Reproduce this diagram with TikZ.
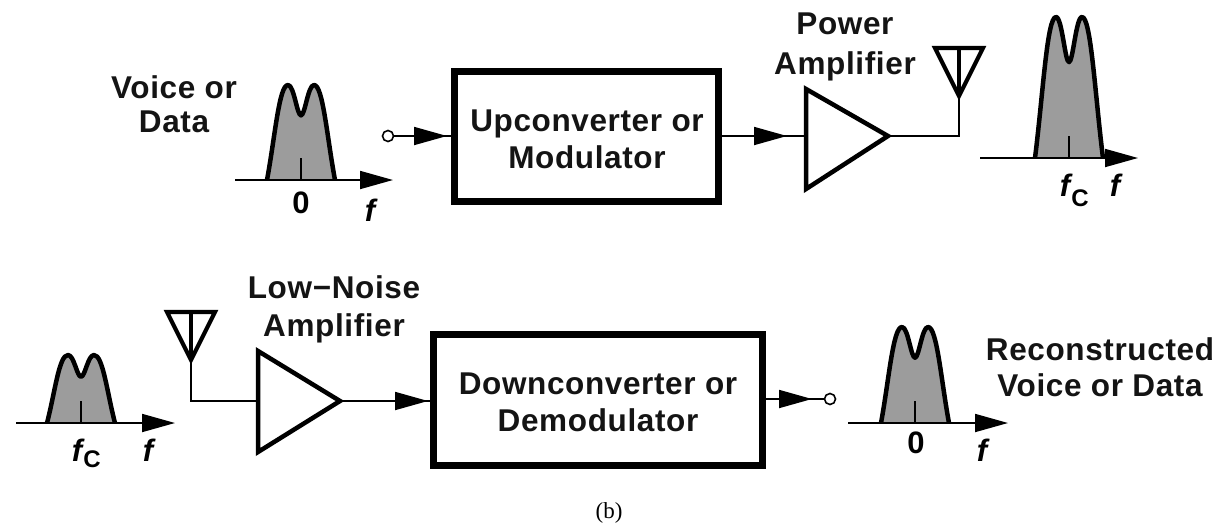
\documentclass[tikz,border=0pt]{standalone}
\usepackage{fontspec}
\setmainfont{Liberation Sans}
\newfontfamily\lblfont[LetterSpace=2]{Liberation Sans Bold}
\newfontfamily\itfont{Liberation Sans Bold Italic}
\newfontfamily\subfont{Liberation Sans Bold}
\newfontfamily\capfont{Liberation Serif}
\usetikzlibrary{arrows.meta}
\tikzset{
  lbl/.style={font=\fontsize{31.5}{#1}\selectfont\lblfont,align=center,inner sep=0pt,text=black!92},
  lbl/.default=37,
  blk/.style={draw,line width=7pt,inner sep=0pt,minimum width=#1},
  amp/.style={draw,line width=4.5pt,line join=miter,fill=white},
  wire/.style={line width=1.8pt},
  flow/.style={wire,-{Triangle[length=33pt,width=18pt]}},
  term/.style={circle,draw,line width=1.6pt,fill=white,minimum size=11pt,inner sep=0pt},
  ant/.style={draw,line width=4.2pt,line join=miter},
  freq/.style={font=\fontsize{31}{31}\selectfont\itfont,inner sep=0pt},
  zero/.style={font=\fontsize{31}{31}\selectfont\subfont,inner sep=0pt},
  subs/.style={font=\fontsize{24}{24}\selectfont\subfont,inner sep=0pt},
}
\newcommand\spec[3]{%
  \begin{scope}[shift={(#1,#2)},yscale=-#3]
    \draw[fill=black!39,line width=4.5pt,line join=round]
      (-34,0) .. controls (-26,.45) and (-22,1) .. (-13,1)
      .. controls (-7,1) and (-4,.68) .. (0,.68)
      .. controls (4,.68) and (7,1) .. (13,1)
      .. controls (22,1) and (26,.45) .. (34,0);
  \end{scope}
  \draw[wire] (#1,#2) -- ++(0,-22);
}
\newcommand\antenna[3]{% cx, top y, name
  \coordinate (#3) at (#1,#2+48);
  \draw[ant] (#1-24,#2) -- (#1+24,#2) -- (#3) -- cycle;
  \draw[line width=4pt] (#1,#2) -- (#3);
}
\begin{document}
\begin{tikzpicture}[x=1pt,y=-1pt]
\useasboundingbox (0,0) rectangle (1219,531);
\fill[white] (0,0) rectangle (1219,531);

% top chain
\spec{301}{180}{95}
\coordinate (a1s) at (235,180); \coordinate (a1e) at (393,180);
\draw[flow] (a1s) -- (a1e);
\node[lbl=34] (vd) at (174,104.5) {Voice or\\Data};
\node[zero] (z1) at (301,203) {0};
\node[freq] (f1) at (370,210) {f};

\node[term] (tin) at (388,136) {};
\node[blk=264pt,minimum height=130pt] (up) at (586,136) {};
\node[lbl] (upt) at (587,139) {Upconverter or\\Modulator};
\coordinate (t1) at (447,136);
\draw[wire] (tin) -- (up.west); \draw[flow] (tin) -- (t1);

\coordinate (pai) at (806,136); \coordinate (pao) at (888,136);
\draw[amp] (806,89) -- (pao) -- (806,189) -- cycle;
\node[lbl=40] (pal) at (845,46.5) {Power\\Amplifier};
\coordinate (t2) at (787,136);
\draw[wire] (up.east) -- (pai); \draw[flow] (up.east) -- (t2);

\antenna{959}{48}{ant1}
\coordinate (c1) at (959,136);
\draw[wire] (pao) -- (c1) -- (ant1);

\spec{1069}{158}{141}
\coordinate (a2s) at (980,158); \coordinate (a2e) at (1138,158);
\draw[flow] (a2s) -- (a2e);
\node[freq] (fc1) at (1065,185) {f};
\node[subs] (c1l) at (1080,198) {C};
\node[freq] (f2) at (1115,185) {f};

% bottom chain
\spec{81}{423}{68}
\coordinate (a3s) at (16,423); \coordinate (a3e) at (175,423);
\draw[flow] (a3s) -- (a3e);
\node[freq] (fc2) at (77,450) {f};
\node[subs] (c2l) at (92,459) {C};
\node[freq] (f3) at (148,450) {f};

\antenna{191}{312}{ant2}
\coordinate (lni) at (258,401); \coordinate (lno) at (340,401);
\coordinate (c2) at (191,401);
\draw[wire] (ant2) -- (c2) -- (lni);
\draw[amp] (258,351) -- (lno) -- (258,452) -- cycle;
\node[lbl=38] (lnl) at (334,309.5) {Low−Noise\\Amplifier};

\node[blk=329pt,minimum height=131pt] (down) at (597.5,400) {};
\node[lbl] (downt) at (598,402) {Downconverter or\\Demodulator};
\coordinate (t3) at (428,401);
\draw[wire] (lno) -- (down.west |- t3); \draw[flow] (lno) -- (t3);

\node[term] (tout) at (830,399) {};
\coordinate (t4) at (812,399);
\draw[wire] (down.east |- t4) -- (tout); \draw[flow] (down.east |- t4) -- (t4);

\spec{915}{423}{96}
\coordinate (a4s) at (848,423); \coordinate (a4e) at (1008,423);
\draw[flow] (a4s) -- (a4e);
\node[zero] (z2) at (916,443) {0};
\node[freq] (f4) at (982,450) {f};
\node[lbl=36] (rec) at (1100,367) {Reconstructed\\Voice or Data};

\node[font=\fontsize{23}{23}\selectfont\capfont,inner sep=0pt] (cap) at (609,513) {(b)};
\end{tikzpicture}
\end{document}
